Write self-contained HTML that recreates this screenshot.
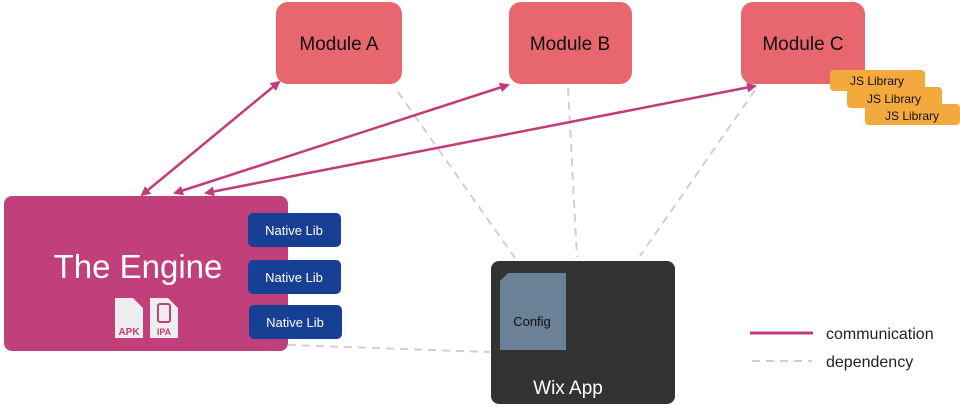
<!DOCTYPE html>
<html><head><style>
body{margin:0;width:960px;height:408px;background:#fff;overflow:hidden;font-family:"Liberation Sans",sans-serif}
</style></head><body>
<svg width="960" height="408" xmlns="http://www.w3.org/2000/svg" font-family="Liberation Sans, sans-serif">
<defs>
<marker id="ah" markerWidth="10" markerHeight="10" refX="8" refY="5" orient="auto-start-reverse" markerUnits="userSpaceOnUse"><path d="M0,0 L10,5 L0,10 z" fill="#c23c7c"/></marker>
</defs>
<g stroke="#d0d0d0" stroke-width="2" stroke-dasharray="8,6" fill="none">
<line x1="398" y1="92" x2="515" y2="258"/>
<line x1="568" y1="88" x2="577" y2="257"/>
<line x1="755" y1="90" x2="640" y2="256"/>
<line x1="288" y1="345" x2="490" y2="352"/>
<line x1="752" y1="361" x2="812" y2="361"/>
</g>
<rect x="276" y="2" width="126" height="82" rx="12" fill="#e8676f"/>
<rect x="509" y="2" width="123" height="82" rx="12" fill="#e8676f"/>
<rect x="741" y="2" width="124" height="82" rx="12" fill="#e8676f"/>
<g font-size="19" fill="#111" text-anchor="middle">
<text x="339" y="50">Module A</text><text x="570" y="50">Module B</text><text x="803" y="50">Module C</text>
</g>
<g fill="#f3a93b"><rect x="830" y="70" width="95" height="21" rx="4"/><rect x="847" y="87" width="95" height="21" rx="4"/><rect x="865" y="104" width="95" height="21" rx="4"/></g>
<g font-size="12" fill="#111" text-anchor="middle"><text x="877" y="85">JS Library</text><text x="894" y="103">JS Library</text><text x="912" y="120">JS Library</text></g>
<g stroke="#c23c7c" stroke-width="2.5" fill="none" marker-start="url(#ah)" marker-end="url(#ah)">
<line x1="142" y1="195" x2="279" y2="82"/>
<line x1="175" y1="193" x2="508" y2="85"/>
<line x1="206" y1="193" x2="755" y2="86"/>
</g>
<rect x="4" y="196" width="284" height="155" rx="8" fill="#c13f7b"/>
<text x="138" y="278" font-size="33" fill="#fff" text-anchor="middle">The Engine</text>
<g fill="#eee">
<path d="M115 298 h18 l10 10 v30 h-28 z"/>
<path d="M150 298 h18 l10 10 v30 h-28 z"/>
</g>
<text x="129" y="335" font-size="10" font-weight="bold" fill="#c13f7b" text-anchor="middle">APK</text>
<text x="164" y="335" font-size="9" font-weight="bold" fill="#c13f7b" text-anchor="middle">IPA</text>
<rect x="158" y="304" width="12" height="18" rx="2" fill="none" stroke="#c13f7b" stroke-width="2"/>
<g fill="#173f93"><rect x="248" y="213" width="93" height="34" rx="5"/><rect x="248" y="260" width="93" height="34" rx="5"/><rect x="249" y="305" width="93" height="34" rx="5"/></g>
<g font-size="13" fill="#fff" text-anchor="middle"><text x="294" y="235">Native Lib</text><text x="294" y="282">Native Lib</text><text x="295" y="327">Native Lib</text></g>
<rect x="491" y="261" width="184" height="143" rx="8" fill="#333"/>
<path d="M508 273 h58 v77 h-66 v-69 z" fill="#6a8198"/>
<text x="532" y="326" font-size="13" fill="#111" text-anchor="middle">Config</text>
<text x="568" y="394" font-size="19" fill="#fff" text-anchor="middle">Wix App</text>
<line x1="750" y1="333" x2="813" y2="333" stroke="#c23c7c" stroke-width="3"/>
<g font-size="16" fill="#222"><text x="826" y="339">communication</text><text x="826" y="367">dependency</text></g>
</svg>
</body></html>
